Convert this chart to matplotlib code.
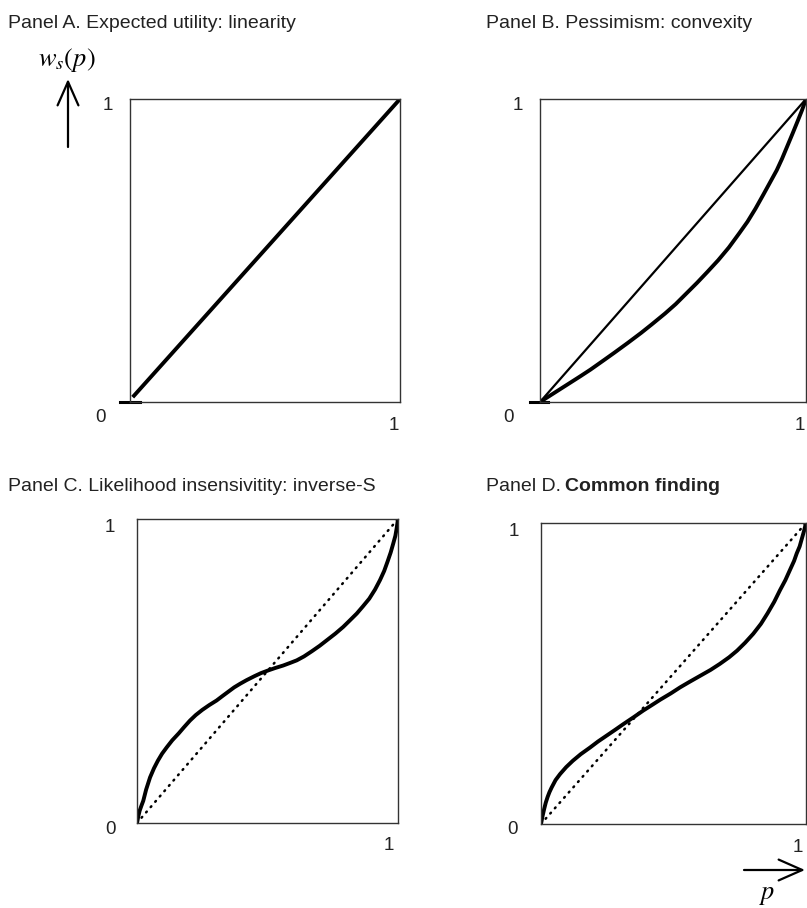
import matplotlib
matplotlib.use("Agg")
import matplotlib.pyplot as plt
from matplotlib.patches import FancyArrowPatch

plt.rcParams['font.family'] = ['Liberation Sans', 'DejaVu Sans']
plt.rcParams['mathtext.fontset'] = 'stix'

# ---------------- data ----------------
titles = ["Panel A. Expected utility: linearity",
          "Panel B. Pessimism: convexity",
          "Panel C. Likelihood insensivitity: inverse-S",
          "Panel D. "]
title_d_bold = "Common finding"

diag_p = [0.0, 1.0]
diag_w = [0.0, 1.0]

lin_p = [0.01, 1.0]
lin_w = [0.016, 1.0]

origin_tick_a = [-0.037, 0.037]
origin_tick_b = [-0.038, 0.029]

convex_p = [0, 0.05, 0.10, 0.15, 0.19, 0.24, 0.28, 0.33, 0.38, 0.42, 0.47, 0.51, 0.55, 0.59, 0.63,
            0.67, 0.71, 0.75, 0.78, 0.81, 0.84, 0.87, 0.89, 0.91, 0.93, 0.95, 0.97, 0.985, 1.0]
convex_w = [0, 0.028, 0.056, 0.084, 0.107, 0.138, 0.163, 0.195, 0.228, 0.256, 0.292, 0.323, 0.358,
            0.393, 0.43, 0.468, 0.51, 0.558, 0.595, 0.638, 0.685, 0.733, 0.765, 0.803, 0.845,
            0.887, 0.93, 0.963, 1.0]

invs_p = [0, 0.005, 0.01, 0.017, 0.024, 0.035, 0.05, 0.065, 0.08, 0.096, 0.114, 0.135, 0.16, 0.18,
          0.203, 0.225, 0.25, 0.277, 0.305, 0.328, 0.35, 0.372, 0.395, 0.42, 0.45, 0.475, 0.503,
          0.53, 0.56, 0.585, 0.612, 0.64, 0.67, 0.7, 0.727, 0.76, 0.79, 0.815, 0.842, 0.865,
          0.89, 0.912, 0.931, 0.947, 0.96, 0.972, 0.982, 0.99, 0.995, 1.0]
invs_w = [0, 0.022, 0.04, 0.057, 0.073, 0.11, 0.15, 0.18, 0.205, 0.228, 0.249, 0.272, 0.295, 0.315,
          0.337, 0.355, 0.372, 0.388, 0.403, 0.418, 0.432, 0.446, 0.458, 0.47, 0.483, 0.493, 0.502,
          0.51, 0.518, 0.526, 0.535, 0.548, 0.565, 0.583, 0.601, 0.623, 0.645, 0.666, 0.689, 0.712,
          0.738, 0.768, 0.799, 0.829, 0.86, 0.89, 0.92, 0.945, 0.97, 1.0]

common_p = [0, 0.006, 0.012, 0.018, 0.025, 0.032, 0.04, 0.055, 0.072, 0.095, 0.12, 0.15, 0.185,
            0.215, 0.25, 0.28, 0.311, 0.35, 0.386, 0.42, 0.45, 0.49, 0.525, 0.56, 0.6, 0.64,
            0.675, 0.71, 0.74, 0.77, 0.801, 0.83, 0.855, 0.88, 0.902, 0.922, 0.94, 0.955, 0.965,
            0.976, 0.985, 0.993, 1.0]
common_w = [0, 0.027, 0.05, 0.071, 0.09, 0.106, 0.121, 0.146, 0.166, 0.189, 0.21, 0.232, 0.254,
            0.274, 0.295, 0.313, 0.332, 0.355, 0.377, 0.396, 0.413, 0.434, 0.454, 0.472, 0.492,
            0.512, 0.532, 0.554, 0.576, 0.602, 0.632, 0.665, 0.70, 0.738, 0.777, 0.81, 0.845,
            0.874, 0.899, 0.922, 0.95, 0.975, 1.0]

tick_lo = "0"
tick_hi = "1"
y_axis_label = r"$w_s(p)$"
x_axis_label = r"$p$"

# ---------------- figure ----------------
W, H = 807, 908
fig = plt.figure(figsize=(W / 100, H / 100), dpi=100)


def add_ax(l, t, r, b):
    ax = fig.add_axes([l / W, 1 - b / H, (r - l) / W, (b - t) / H])
    ax.set_xlim(0, 1)
    ax.set_ylim(0, 1)
    ax.set_xticks([])
    ax.set_yticks([])
    for s in ax.spines.values():
        s.set_linewidth(1.0)
        s.set_color('#333333')
    return ax


axA = add_ax(130, 99, 400, 402)
axB = add_ax(540, 99, 806, 402)
axC = add_ax(137, 519, 398, 823)
axD = add_ax(541, 523, 806, 824)

THICK = 2.8
DOT = dict(color='black', lw=1.8, linestyle=(0, (0.4, 2.4)), dash_capstyle='round')
CURVE = dict(color='black', lw=THICK, solid_joinstyle='round', solid_capstyle='round')

# Panel A
axA.plot(lin_p, lin_w, color='black', lw=THICK, solid_capstyle='butt')
axA.plot(origin_tick_a, [0, 0], color='black', lw=2.2, clip_on=False)

# Panel B
axB.plot(diag_p, diag_w, color='black', lw=1.6)
axB.plot(convex_p, convex_w, **CURVE)
axB.plot(origin_tick_b, [0, 0], color='black', lw=2.2, clip_on=False)

# Panel C
axC.plot(diag_p, diag_w, **DOT)
axC.plot(invs_p, invs_w, **CURVE)

# Panel D
axD.plot(diag_p, diag_w, **DOT)
axD.plot(common_p, common_w, **CURVE)

# tick-like labels
TK = dict(ha='center', va='center', fontsize=13.5, textcoords='offset pixels',
          xycoords='axes fraction', color='#222222')
for ax, zero_off, one_left_off, one_right_off in [
        (axA, (-30, -15), (-22, -6), (-6, -23)),
        (axB, (-32, -15), (-22, -6), (-6, -23)),
        (axC, (-27, -7), (-27, -8), (-9, -22)),
        (axD, (-29, -6), (-27, -8), (-8, -23))]:
    ax.annotate(tick_lo, xy=(0, 0), xytext=zero_off, **TK)
    ax.annotate(tick_hi, xy=(0, 1), xytext=one_left_off, **TK)
    ax.annotate(tick_hi, xy=(1, 0), xytext=one_right_off, **TK)

# titles
TT = dict(fontsize=14, va='baseline', ha='left', color='#222222')
fig.text(8 / W, 1 - 28 / H, titles[0], **TT)
fig.text(486 / W, 1 - 28 / H, titles[1], **TT)
fig.text(8 / W, 1 - 491 / H, titles[2], **TT)
tD = fig.text(486 / W, 1 - 491 / H, titles[3], **TT)
fig.canvas.draw()
fig.text(0, 0, title_d_bold, fontsize=14, va='baseline', ha='left', weight='bold',
         color='#222222',
         transform=matplotlib.transforms.offset_copy(
             fig.transFigure, fig=fig,
             x=tD.get_window_extent().x1 / 100 * 72 - 1, y=(1 - 491 / H) * H * 0.72,
             units='points'))

# axis arrows and labels
arrow_style = '->,head_length=17,head_width=7.5'
fig.add_artist(FancyArrowPatch((68 / W, 1 - 147 / H), (68 / W, 1 - 79 / H),
                               transform=fig.transFigure, arrowstyle=arrow_style,
                               mutation_scale=1, lw=1.6, color='black',
                               shrinkA=0, shrinkB=0))
fig.add_artist(FancyArrowPatch((744 / W, 1 - 870 / H), (805 / W, 1 - 870 / H),
                               transform=fig.transFigure, arrowstyle=arrow_style,
                               mutation_scale=1, lw=1.6, color='black',
                               shrinkA=0, shrinkB=0))
fig.text(67 / W, 1 - 60 / H, y_axis_label, ha='center', va='center', fontsize=19)
fig.text(767 / W, 1 - 895 / H, x_axis_label, ha='center', va='center', fontsize=19)

fig.savefig("out.png", dpi=100)
